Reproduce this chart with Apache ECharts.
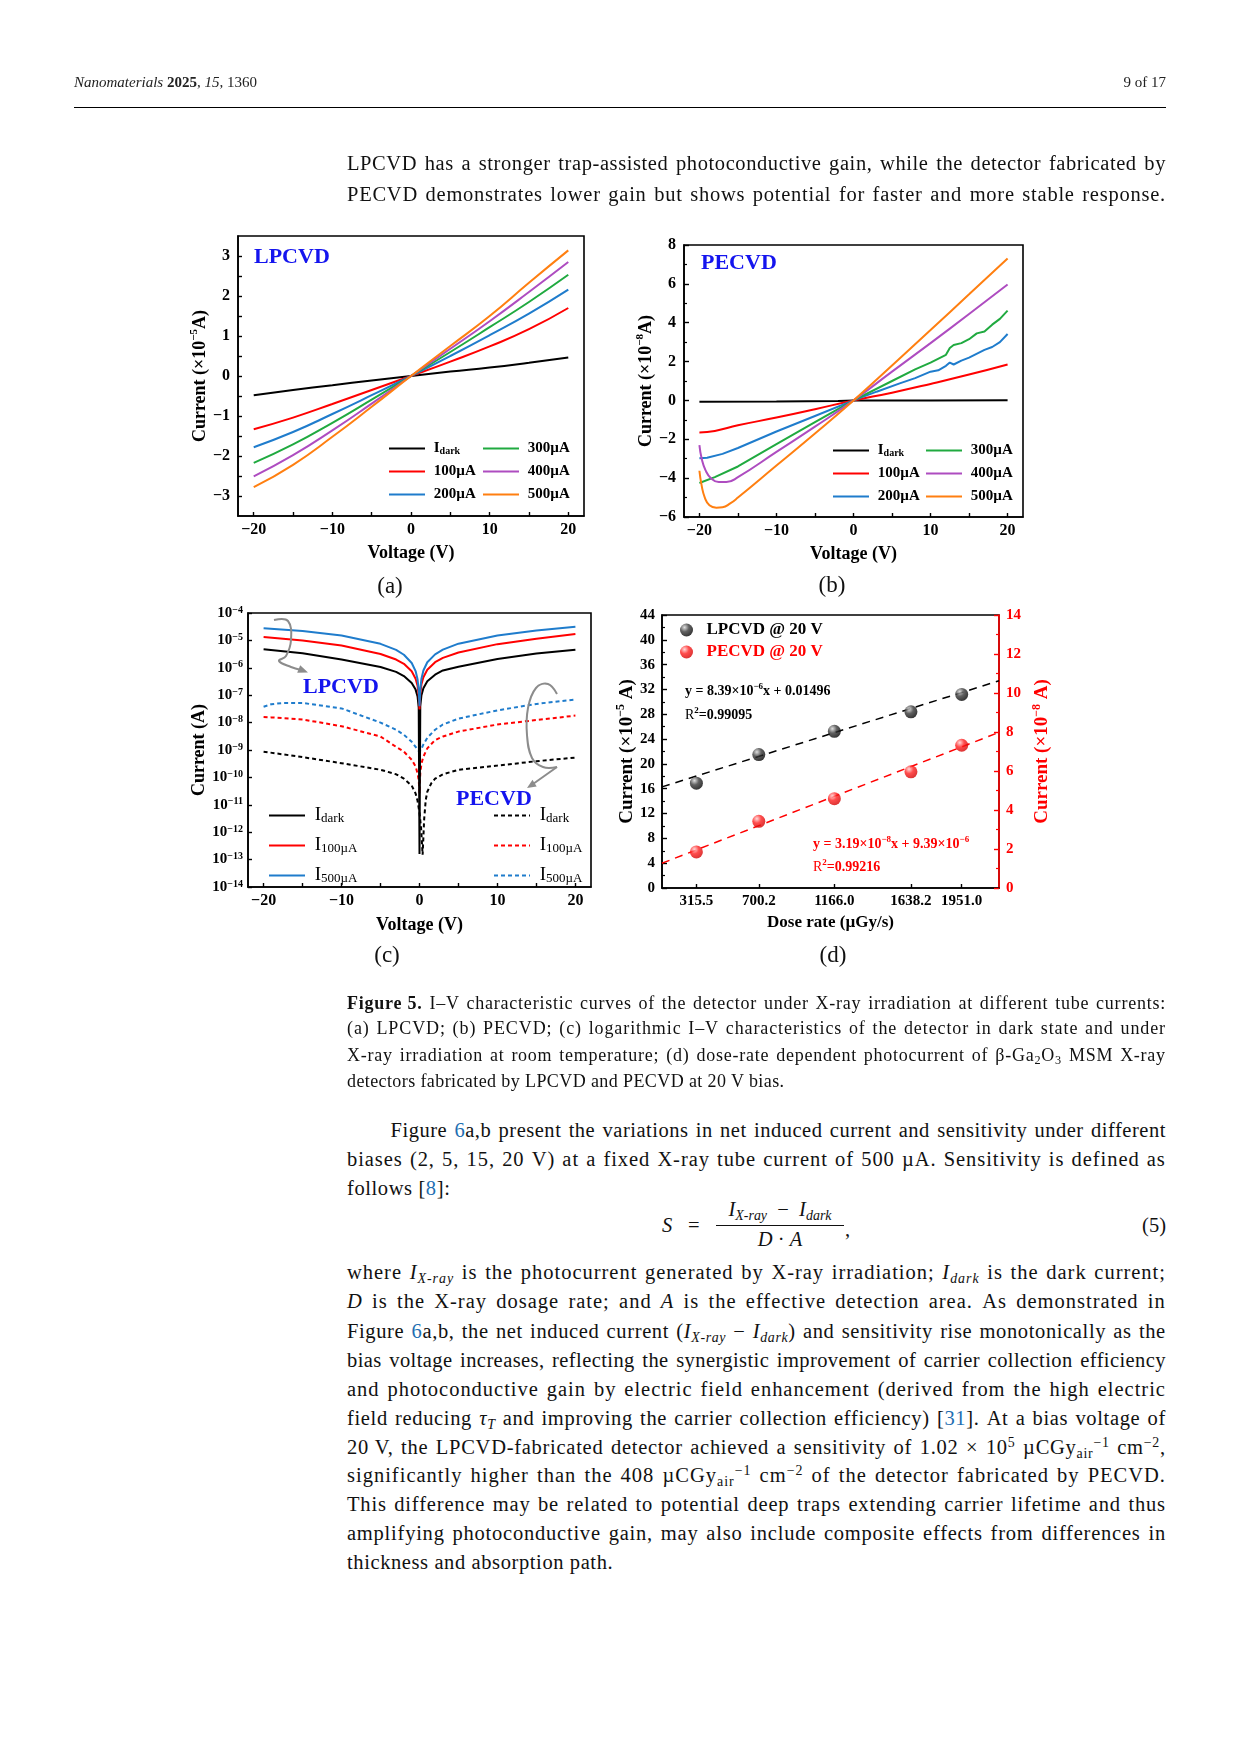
<!DOCTYPE html>
<html><head><meta charset="utf-8">
<script src="https://cdn.jsdelivr.net/npm/echarts@6/dist/echarts.min.js"></script>
<style>
html,body{margin:0;padding:0;background:#fff;}
#page{position:relative;width:1241px;height:1754px;overflow:hidden;background:#fff;}
#chart{position:absolute;left:0;top:0;width:1241px;height:1000px;}
.ln{position:absolute;height:30px;line-height:30px;font-family:"Liberation Serif",serif;font-size:20.5px;color:#111;white-space:nowrap;align-items:baseline;}
.cap{font-size:18px;}
.ln a{color:#1f6fb2;text-decoration:none;}
.ln sub,.eq sub{font-size:68%;vertical-align:-0.28em;line-height:0;}
.ln sup,.eq sup{font-size:68%;vertical-align:0.5em;line-height:0;}
.hdr{position:absolute;font-family:"Liberation Serif",serif;font-size:15px;line-height:20px;color:#222;}
.eq{position:absolute;font-family:"Liberation Serif",serif;font-size:20.5px;line-height:26px;color:#111;white-space:nowrap;}
</style></head>
<body>
<div id="page">
  <div id="chart"></div>
  <div class="hdr" style="left:74px;top:72px;"><i>Nanomaterials</i> <b>2025</b>, <i>15</i>, 1360</div>
  <div class="hdr" style="left:1100px;width:66px;text-align:right;top:72px;">9 of 17</div>
  <div style="position:absolute;left:74px;width:1092px;top:107px;height:1px;background:#000;"></div>
  <div class="eq" style="left:662px;top:1212px;"><i>S</i></div>
  <div class="eq" style="left:688px;top:1212px;">=</div>
  <div class="eq" style="left:716px;width:128px;text-align:center;top:1196px;"><i>I</i><sub><i>X-ray</i></sub> &nbsp;− &nbsp;<i>I</i><sub><i>dark</i></sub></div>
  <div style="position:absolute;left:716px;width:128px;top:1225px;height:1px;background:#111;"></div>
  <div class="eq" style="left:716px;width:128px;text-align:center;top:1226px;"><i>D</i> · <i>A</i></div>
  <div class="eq" style="left:845px;top:1216px;">,</div>
  <div class="eq" style="left:1120px;width:46px;text-align:right;top:1212px;">(5)</div>
</div>
<script>
// ---------- data ----------
const V = [-20, -15, -10, -5, 0, 5, 10, 15, 20];
const voltLabels = [-20, -10, 0, 10, 20];
const voltTicks = [-20, -15, -10, -5, 0, 5, 10, 15, 20];
const aYLabels = [-3, -2, -1, 0, 1, 2, 3];
const aYTicks = [-3, -2.5, -2, -1.5, -1, -0.5, 0, 0.5, 1, 1.5, 2, 2.5, 3];
// (a) LPCVD, x10^-5 A
const aDark = [-0.48, -0.35, -0.23, -0.11, 0, 0.11, 0.21, 0.33, 0.46];
const a100 = [-1.33, -1.04, -0.70, -0.35, 0, 0.36, 0.74, 1.17, 1.70];
const a200 = [-1.78, -1.40, -0.95, -0.48, 0, 0.50, 1.02, 1.56, 2.16];
const a300 = [-2.17, -1.71, -1.17, -0.59, 0, 0.60, 1.22, 1.85, 2.53];
const a400 = [-2.51, -1.98, -1.36, -0.69, 0, 0.68, 1.37, 2.10, 2.85];
const a500 = [-2.78, -2.22, -1.52, -0.77, 0, 0.75, 1.50, 2.33, 3.14];
// (b) PECVD, x10^-8 A  [V, I]
const bDark = [[-20,-0.07],[-10,-0.06],[-2,-0.03],[0,0],[10,0.0],[20,0.01]];
const b100 = [[-20,-1.65],[-18,-1.57],[-15,-1.28],[-10,-0.88],[-5,-0.45],[0,0],[5,0.4],[10,0.85],[15,1.33],[20,1.85]];
const b200 = [[-20,-2.98],[-19,-2.95],[-17,-2.75],[-15,-2.45],[-10,-1.6],[-5,-0.8],[0,0],[3,0.45],[6,0.88],[8,1.15],[10,1.48],[11,1.55],[12,1.78],[12.5,1.95],[13,1.85],[14,2.05],[15,2.2],[17,2.6],[18,2.75],[19,3.0],[20,3.42]];
const b300 = [[-20,-4.25],[-18,-3.95],[-15,-3.4],[-10,-2.25],[-5,-1.12],[0,0],[5,1.0],[8,1.6],[10,1.95],[12,2.35],[12.5,2.7],[13,2.85],[14,2.95],[15,3.15],[16,3.45],[17,3.55],[18,3.9],[19,4.2],[20,4.62]];
const b400 = [[-20,-2.3],[-19.7,-3.0],[-19.2,-3.6],[-18.5,-4.0],[-17.5,-4.2],[-16.5,-4.2],[-15,-3.95],[-10,-2.65],[-5,-1.35],[0,0],[5,1.48],[10,2.95],[15,4.45],[20,5.97]];
const b500 = [[-20,-3.62],[-19.7,-4.4],[-19.3,-5.0],[-18.7,-5.4],[-17.8,-5.52],[-17,-5.5],[-16,-5.3],[-15,-5.0],[-10,-3.35],[-5,-1.7],[0,0],[5,1.8],[10,3.62],[15,5.46],[20,7.31]];
// (c) log |I| (A)
const cV = [-20,-15,-10,-5,-3,-2,-1,-0.5,-0.25,-0.1,0,0.1,0.25,0.5,1,2,3,5,10,15,20];
const cLPdark = [4.8e-6,3.4e-6,2.0e-6,1.07e-6,7.1e-7,5.0e-7,2.8e-7,1.6e-7,9e-8,3.5e-8,1.6e-13,4e-8,1e-7,1.8e-7,3.2e-7,5.6e-7,8e-7,1.1e-6,2.1e-6,3.3e-6,4.6e-6];
const cLP100 = [1.33e-5,1.0e-5,6.5e-6,3.2e-6,2.0e-6,1.4e-6,7.5e-7,4e-7,2.2e-7,1e-7,3e-8,1.1e-7,2.5e-7,4.5e-7,8.5e-7,1.6e-6,2.3e-6,3.6e-6,7.3e-6,1.15e-5,1.7e-5];
const cLP500 = [2.78e-5,2.2e-5,1.5e-5,7.5e-6,4.5e-6,3.0e-6,1.5e-6,7.6e-7,3.8e-7,1.5e-7,4e-8,1.6e-7,4e-7,8e-7,1.6e-6,3.1e-6,4.6e-6,7.6e-6,1.5e-5,2.3e-5,3.14e-5];
const cVpe = [-20,-19,-17.5,-15,-10,-5,-3,-2,-1,-0.5,-0.25,-0.1,0,0.1,0.25,0.5,1,2,3,5,10,15,20];
const cPE100 = [1.6e-8,1.55e-8,1.45e-8,1.3e-8,7.4e-9,3.1e-9,1.3e-9,8.7e-10,4.4e-10,2.5e-10,1.4e-10,8e-11,2.6e-11,1.4e-10,3.2e-10,5.7e-10,1.15e-9,2.3e-9,3.1e-9,4.7e-9,8.5e-9,1.24e-8,1.8e-8];
const cPE500 = [3.8e-8,4.7e-8,5.2e-8,5.2e-8,3.3e-8,1.0e-8,5.5e-9,3.6e-9,2.0e-9,1.3e-9,1.05e-9,9e-10,8.5e-10,9e-10,1.1e-9,1.6e-9,2.8e-9,5.5e-9,8.5e-9,1.4e-8,2.8e-8,4.8e-8,7.0e-8];
const cVpd = [-20,-15,-10,-5,-3,-2,-1,-0.5,-0.25,0,0.2,0.4,0.6,0.8,1,1.5,2,3,5,10,15,20];
const cPEdark = [8.7e-10,5.5e-10,3.3e-10,1.9e-10,1.3e-10,9e-11,5e-11,2.6e-11,1.4e-11,5e-12,1.5e-12,1.5e-13,3e-12,1.5e-11,3e-11,6e-11,9e-11,1.3e-10,1.9e-10,2.7e-10,3.9e-10,5.3e-10];
// (d) dose rate
const doseRates = [315.5, 700.2, 1166.0, 1638.2, 1951.0];
const lpCurrent = [16.9, 21.5, 25.25, 28.4, 31.2];      // x10^-5 A
const peCurrent = [1.85, 3.42, 4.58, 5.96, 7.32];       // x10^-8 A
const lpFit = [[103.5, 16.3], [2181, 33.4]];
const peFit = [[103.5, 1.27], [2181, 7.98]];

// ---------- page text ----------
const page = document.getElementById('page');
function addText(y, html, opt) {
  opt = opt || {};
  const W = opt.width || 819;
  const d = document.createElement('div');
  d.className = 'ln ' + (opt.cls || '');
  d.style.top = (y - 15) + 'px';
  d.style.left = (opt.left || 347) + 'px';
  if (opt.justify !== false) {
    d.style.width = 'auto';
    d.innerHTML = html;
    page.appendChild(d);
    const w = d.getBoundingClientRect().width;
    const n = d.textContent.length;
    let ls = (W * 0.975 - w) / n;
    ls = Math.max(-0.5, Math.min(1.0, ls));
    d.style.letterSpacing = ls.toFixed(2) + 'px';
    d.style.width = W + 'px';
    d.style.display = 'flex';
    d.style.justifyContent = 'space-between';
    d.innerHTML = html.split(' ').filter(Boolean).map(w => '<span>' + w + '</span>').join('');
  } else {
    d.style.width = W + 'px';
    d.style.letterSpacing = (opt.ls != null ? opt.ls : 0.5) + 'px';
    d.innerHTML = html;
    page.appendChild(d);
  }
}
const para1 = [
  'LPCVD has a stronger trap-assisted photoconductive gain, while the detector fabricated by',
  'PECVD demonstrates lower gain but shows potential for faster and more stable response.'
];
const caption = [
  '<b>Figure&nbsp;5.</b> I–V characteristic curves of the detector under X-ray irradiation at different tube currents:',
  '(a) LPCVD; (b) PECVD; (c) logarithmic I–V characteristics of the detector in dark state and under',
  'X-ray irradiation at room temperature; (d) dose-rate dependent photocurrent of β-Ga<sub>2</sub>O<sub>3</sub> MSM X-ray',
  'detectors fabricated by LPCVD and PECVD at 20 V bias.'
];
const para2 = [
  'Figure <a>6</a>a,b present the variations in net induced current and sensitivity under different',
  'biases (2, 5, 15, 20 V) at a fixed X-ray tube current of 500 µA. Sensitivity is defined as',
  'follows [<a>8</a>]:'
];
const para3 = [
  'where <i>I</i><sub><i>X-ray</i></sub> is the photocurrent generated by X-ray irradiation; <i>I</i><sub><i>dark</i></sub> is the dark current;',
  '<i>D</i> is the X-ray dosage rate; and <i>A</i> is the effective detection area. As demonstrated in',
  'Figure <a>6</a>a,b, the net induced current (<i>I</i><sub><i>X-ray</i></sub> − <i>I</i><sub><i>dark</i></sub>) and sensitivity rise monotonically as the',
  'bias voltage increases, reflecting the synergistic improvement of carrier collection efficiency',
  'and photoconductive gain by electric field enhancement (derived from the high electric',
  'field reducing <i>τ</i><sub><i>T</i></sub> and improving the carrier collection efficiency) [<a>31</a>]. At a bias voltage of',
  '20&nbsp;V, the LPCVD-fabricated detector achieved a sensitivity of 1.02 × 10<sup>5</sup> µCGy<sub>air</sub><sup>−1</sup> cm<sup>−2</sup>,',
  'significantly higher than the 408 µCGy<sub>air</sub><sup>−1</sup> cm<sup>−2</sup> of the detector fabricated by PECVD.',
  'This difference may be related to potential deep traps extending carrier lifetime and thus',
  'amplifying photoconductive gain, may also include composite effects from differences in',
  'thickness and absorption path.'
];
const p1Y = [163.4, 193.6];
const capY = [1002.6, 1028.4, 1055.2, 1081];
const p2Y = [1130.2, 1159.3, 1188.4];
const p3Y = [1272.3, 1301.4, 1330.5, 1359.6, 1388.7, 1417.8, 1446.8, 1474.8, 1503.9, 1533, 1562.1];
para1.forEach((t, i) => addText(p1Y[i], t));
caption.forEach((t, i) => addText(capY[i], t, {cls:'cap', justify: i < caption.length - 1, ls:0.4}));
para2.forEach((t, i) => addText(p2Y[i], t, i === 0 ? {left:390.5, width:775.5} : {justify: i < para2.length - 1, ls:0.6}));
para3.forEach((t, i) => addText(p3Y[i], t, {justify: i < para3.length - 1, ls:0.6}));

// ---------- styles ----------
const F = 'Liberation Serif';
const BLK = '#000';
const COL = {dark:'#000000', c100:'#ff0000', c200:'#1f7ccc', c300:'#20aa40', c400:'#ae4cc0', c500:'#ff7f10'};
const TITLE_BLUE = '#1414ee';
const fmtMinus = v => String(v).replace('-', '\u2212');
const zip = (xs, ys) => xs.map((x, i) => [x, ys[i]]);
const nameRich = (size, color) => ({
  n: {fontFamily:F, fontWeight:'bold', fontSize:size, lineHeight:size+4, color},
  s: {fontFamily:F, fontWeight:'bold', fontSize:Math.round(size*0.62), lineHeight:Math.round(size*0.6), verticalAlign:'top', color}
});
const lbl = (extra) => Object.assign({color:BLK, fontFamily:F, fontWeight:'bold', fontSize:16}, extra);
const axLine = {onZero:false, lineStyle:{color:BLK, width:1.6}};

function voltAxis(g, gap) {
  return {type:'value', gridIndex:g, min:-22, max:22,
    axisLine:axLine,
    axisTick:{inside:true, length:4, customValues:voltTicks, lineStyle:{color:BLK, width:1.4}},
    axisLabel:lbl({customValues:voltLabels, formatter:fmtMinus, margin:6}),
    splitLine:{show:false},
    name:'Voltage (V)', nameLocation:'middle', nameGap:gap,
    nameTextStyle:{fontFamily:F, fontWeight:'bold', fontSize:18, color:BLK}};
}

const series = [];
function addLine(name, data, color, xi, yi, dashed, smooth) {
  series.push({name, type:'line', xAxisIndex:xi, yAxisIndex:yi, data, symbol:'none',
    smooth: smooth ? true : false, z: 3,
    lineStyle:{color, width:2, type: dashed ? [4, 3] : 'solid'}, itemStyle:{color}});
}
// (a)
addLine('a:dark', zip(V, aDark), COL.dark, 0, 0, false, true);
addLine('a:100', zip(V, a100), COL.c100, 0, 0, false, true);
addLine('a:200', zip(V, a200), COL.c200, 0, 0, false, true);
addLine('a:300', zip(V, a300), COL.c300, 0, 0, false, true);
addLine('a:400', zip(V, a400), COL.c400, 0, 0, false, true);
addLine('a:500', zip(V, a500), COL.c500, 0, 0, false, true);
// (b)
addLine('b:dark', bDark, COL.dark, 1, 1, false, false);
addLine('b:100', b100, COL.c100, 1, 1, false, true);
addLine('b:200', b200, COL.c200, 1, 1, false, false);
addLine('b:300', b300, COL.c300, 1, 1, false, false);
addLine('b:400', b400, COL.c400, 1, 1, false, true);
addLine('b:500', b500, COL.c500, 1, 1, false, true);
// (c)
addLine('c:PEdark', zip(cVpd, cPEdark), COL.dark, 2, 2, true, false);
addLine('c:PE100', zip(cVpe, cPE100), COL.c100, 2, 2, true, false);
addLine('c:PE500', zip(cVpe, cPE500), COL.c200, 2, 2, true, false);
addLine('c:LPdark', zip(cV, cLPdark), COL.dark, 2, 2, false, false);
addLine('c:LP100', zip(cV, cLP100), COL.c100, 2, 2, false, false);
addLine('c:LP500', zip(cV, cLP500), COL.c200, 2, 2, false, false);
// (d)
const ballBlack = {type:'radial', x:0.35, y:0.3, r:0.75, colorStops:[{offset:0, color:'#d8d8d8'},{offset:0.45, color:'#3a3a3a'},{offset:1, color:'#000'}]};
const ballRed = {type:'radial', x:0.35, y:0.3, r:0.75, colorStops:[{offset:0, color:'#ffd0d0'},{offset:0.45, color:'#ff2020'},{offset:1, color:'#d00000'}]};
series.push({name:'fitLP', type:'line', xAxisIndex:3, yAxisIndex:3, data:lpFit, symbol:'none', lineStyle:{color:'#000', width:1.5, type:[8,6]}, z:2});
series.push({name:'fitPE', type:'line', xAxisIndex:3, yAxisIndex:4, data:peFit, symbol:'none', lineStyle:{color:'#ff0000', width:1.5, type:[8,6]}, z:2});
series.push({name:'LPCVD @ 20 V', type:'scatter', xAxisIndex:3, yAxisIndex:3, data:zip(doseRates, lpCurrent), symbolSize:13, itemStyle:{color:ballBlack}, z:4});
series.push({name:'PECVD @ 20 V', type:'scatter', xAxisIndex:3, yAxisIndex:4, data:zip(doseRates, peCurrent), symbolSize:13, itemStyle:{color:ballRed}, z:4});

// legends
const legRich = (size, weight) => ({
  n: {fontFamily:F, fontWeight:weight, fontSize:size, lineHeight:14, color:BLK},
  sb: {fontFamily:F, fontWeight:weight, fontSize:Math.round(size*0.66), lineHeight:6, verticalAlign:'bottom', color:BLK}
});
const legLabel = {
  'a:dark':'{n|I}{sb|dark}', 'a:100':'{n|100µA}', 'a:200':'{n|200µA}', 'a:300':'{n|300µA}', 'a:400':'{n|400µA}', 'a:500':'{n|500µA}',
  'b:dark':'{n|I}{sb|dark}', 'b:100':'{n|100µA}', 'b:200':'{n|200µA}', 'b:300':'{n|300µA}', 'b:400':'{n|400µA}', 'b:500':'{n|500µA}',
  'c:LPdark':'{n|I}{sb|dark}', 'c:LP100':'{n|I}{sb|100µA}', 'c:LP500':'{n|I}{sb|500µA}',
  'c:PEdark':'{n|I}{sb|dark}', 'c:PE100':'{n|I}{sb|100µA}', 'c:PE500':'{n|I}{sb|500µA}'
};
function lineLegend(data, left, top, gap, size, weight) {
  return {data, left, top, orient:'vertical', padding:0, itemGap:gap, itemWidth:36, itemHeight:14,
    selectedMode:false, itemStyle:{opacity:0},
    formatter: n => ' ' + legLabel[n],
    textStyle:{fontFamily:F, fontWeight:weight, fontSize:size, color:BLK, rich:legRich(size, weight)}};
}
const legends = [
  lineLegend(['a:dark','a:100','a:200'], 388, 441, 8, 15, 'bold'),
  lineLegend(['a:300','a:400','a:500'], 482, 441, 8, 15, 'bold'),
  lineLegend(['b:dark','b:100','b:200'], 832, 443, 8, 15, 'bold'),
  lineLegend(['b:300','b:400','b:500'], 925, 443, 8, 15, 'bold'),
  lineLegend(['c:LPdark','c:LP100','c:LP500'], 268, 806, 11, 19, 'normal'),
  lineLegend(['c:PEdark','c:PE100','c:PE500'], 493, 806, 11, 19, 'normal'),
  {data:[{name:'LPCVD @ 20 V', textStyle:{color:'#000'}}, {name:'PECVD @ 20 V', textStyle:{color:'#ff0000'}}],
   left:680, top:621, orient:'vertical', padding:0, itemGap:4, itemWidth:13, itemHeight:13, icon:'circle', selectedMode:false,
   formatter: n => '  ' + n,
   textStyle:{fontFamily:F, fontWeight:'bold', fontSize:17, lineHeight:18}}
];

// graphics (panel titles, annotations, sub-figure labels)
const gtext = (x, y, text, size, color, weight, align, rich) => ({type:'text', x, y, z:10,
  style:{text, fill:color, fontFamily:F, fontSize:size, fontWeight:weight, align:align||'left', verticalAlign:'middle', rich}});
const eqRich = (color) => ({
  n:{fontFamily:F, fontWeight:'bold', fontSize:14, lineHeight:18, fill:color, color},
  r:{fontFamily:F, fontWeight:'normal', fontSize:14, lineHeight:18, fill:color, color},
  s:{fontFamily:F, fontWeight:'bold', fontSize:9, lineHeight:9, verticalAlign:'top', fill:color, color}
});
const GRAY = '#8c8c8c';
const graphics = [
  gtext(254, 257, 'LPCVD', 22, TITLE_BLUE, 'bold'),
  gtext(701, 263, 'PECVD', 22, TITLE_BLUE, 'bold'),
  gtext(303, 687, 'LPCVD', 22, TITLE_BLUE, 'bold'),
  gtext(456, 799, 'PECVD', 22, TITLE_BLUE, 'bold'),
  gtext(390, 587, '(a)', 23, '#111', 'normal', 'center'),
  gtext(832, 586, '(b)', 23, '#111', 'normal', 'center'),
  gtext(387, 956, '(c)', 23, '#111', 'normal', 'center'),
  gtext(833, 956, '(d)', 23, '#111', 'normal', 'center'),
  gtext(685, 691, '{n|y = 8.39×10}{s|\u22126}{n|x + 0.01496}', 14, '#000', 'bold', 'left', eqRich('#000')),
  gtext(685, 715, '{r|R}{s|2}{n|=0.99095}', 14, '#000', 'bold', 'left', eqRich('#000')),
  gtext(813, 844, '{n|y = 3.19×10}{s|\u22128}{n|x + 9.39×10}{s|\u22126}', 14, '#ff0000', 'bold', 'left', eqRich('#ff0000')),
  gtext(813, 867, '{r|R}{s|2}{n|=0.99216}', 14, '#ff0000', 'bold', 'left', eqRich('#ff0000')),
  {type:'polyline', z:10, shape:{points:[[274,620],[288,621],[291,640],[286,656],[279,661],[291,667],[301,670]], smooth:0.4}, style:{stroke:GRAY, lineWidth:2, fill:null}},
  {type:'polygon', z:10, shape:{points:[[308,672.5],[300.2,665.3],[297.2,672.7]]}, style:{fill:GRAY}},
  {type:'polyline', z:10, shape:{points:[[557,694],[548,684],[536,688],[528,708],[527,735],[532,758],[543,767],[557,767]], smooth:0.4}, style:{stroke:GRAY, lineWidth:2, fill:null}},
  {type:'line', z:10, shape:{x1:557, y1:767, x2:533, y2:784}, style:{stroke:GRAY, lineWidth:2}},
  {type:'polygon', z:10, shape:{points:[[527,788],[532.5,779.8],[536.7,786.6]]}, style:{fill:GRAY}}
];

const gridStyle = {show:true, borderColor:BLK, borderWidth:1.6, backgroundColor:'transparent'};
const option = {
  animation:false,
  textStyle:{fontFamily:F},
  grid:[
    Object.assign({left:238, top:236, width:346, height:280}, gridStyle),
    Object.assign({left:684, top:245, width:339, height:272}, gridStyle),
    Object.assign({left:248, top:613, width:343, height:274}, gridStyle),
    Object.assign({left:662, top:615, width:337, height:273}, gridStyle)
  ],
  xAxis:[
    voltAxis(0, 28), voltAxis(1, 28), voltAxis(2, 29),
    {type:'value', gridIndex:3, min:103.5, max:2181, axisLine:axLine,
     axisTick:{inside:true, length:4, customValues:doseRates, lineStyle:{color:BLK, width:1.4}},
     axisLabel:lbl({customValues:doseRates, formatter:v => Number(v).toFixed(1), margin:6, fontSize:15}),
     splitLine:{show:false}, name:'Dose rate (µGy/s)', nameLocation:'middle', nameGap:26,
     nameTextStyle:{fontFamily:F, fontWeight:'bold', fontSize:17, color:BLK}}
  ],
  yAxis:[
    {type:'value', gridIndex:0, min:-3.5, max:3.5, axisLine:axLine,
     axisTick:{inside:true, length:4, customValues:aYTicks, lineStyle:{color:BLK, width:1.4}},
     axisLabel:lbl({customValues:aYLabels, formatter:fmtMinus, margin:8}),
     splitLine:{show:false}, name:'{n|Current (×10}{s|\u22125}{n|A)}', nameLocation:'middle', nameGap:18,
     nameTextStyle:{rich:nameRich(18, BLK)}},
    {type:'value', gridIndex:1, min:-6, max:8, interval:2, axisLine:axLine,
     axisTick:{inside:true, length:5, lineStyle:{color:BLK, width:1.4}},
     minorTick:{show:true, splitNumber:2, length:3, lineStyle:{color:BLK, width:1.2}},
     axisLabel:lbl({formatter:fmtMinus, margin:8}),
     splitLine:{show:false}, name:'{n|Current (×10}{s|\u22128}{n|A)}', nameLocation:'middle', nameGap:16,
     nameTextStyle:{rich:nameRich(18, BLK)}},
    {type:'log', gridIndex:2, logBase:10, min:1e-14, max:1e-4, interval:1, splitNumber:10, axisLine:axLine,
     axisTick:{inside:true, length:4, interval:0, lineStyle:{color:BLK, width:1.4}},
     axisLabel:{interval:0, hideOverlap:false, margin:5, formatter: v => { const e = Math.round(Math.log10(v)); return '{b|10}{s|' + (e < 0 ? '\u2212' : '') + Math.abs(e) + '}'; },
       rich:{b:{fontFamily:F, fontWeight:'bold', fontSize:15, lineHeight:16, color:BLK}, s:{fontFamily:F, fontWeight:'bold', fontSize:10, lineHeight:8, verticalAlign:'top', color:BLK}}},
     splitLine:{show:false}, name:'Current (A)', nameLocation:'middle', nameGap:40,
     nameTextStyle:{fontFamily:F, fontWeight:'bold', fontSize:18, color:BLK}},
    {type:'value', gridIndex:3, min:0, max:44, interval:4, axisLine:axLine,
     axisTick:{inside:true, length:5, lineStyle:{color:BLK, width:1.4}},
     minorTick:{show:true, splitNumber:2, length:3, lineStyle:{color:BLK, width:1.2}},
     axisLabel:lbl({margin:7, fontSize:15}),
     splitLine:{show:false}, name:'{n|Current (×10}{s|\u22125}{n| A)}', nameLocation:'middle', nameGap:23,
     nameTextStyle:{rich:nameRich(19, BLK)}},
    {type:'value', gridIndex:3, position:'right', min:0, max:14, interval:2,
     axisLine:{onZero:false, lineStyle:{color:'#ff0000', width:1.6}},
     axisTick:{inside:true, length:5, lineStyle:{color:'#ff0000', width:1.4}},
     minorTick:{show:true, splitNumber:2, length:3, lineStyle:{color:'#ff0000', width:1.2}},
     axisLabel:lbl({margin:7, fontSize:15, color:'#ff0000'}),
     splitLine:{show:false}, name:'{n|Current (×10}{s|\u22128}{n| A)}', nameLocation:'middle', nameGap:32,
     nameTextStyle:{rich:nameRich(19, '#ff0000')}}
  ],
  legend: legends,
  graphic: graphics,
  series
};
const chart = echarts.init(document.getElementById('chart'), null, {renderer:'canvas'});
chart.setOption(option);
</script>
</body></html>
